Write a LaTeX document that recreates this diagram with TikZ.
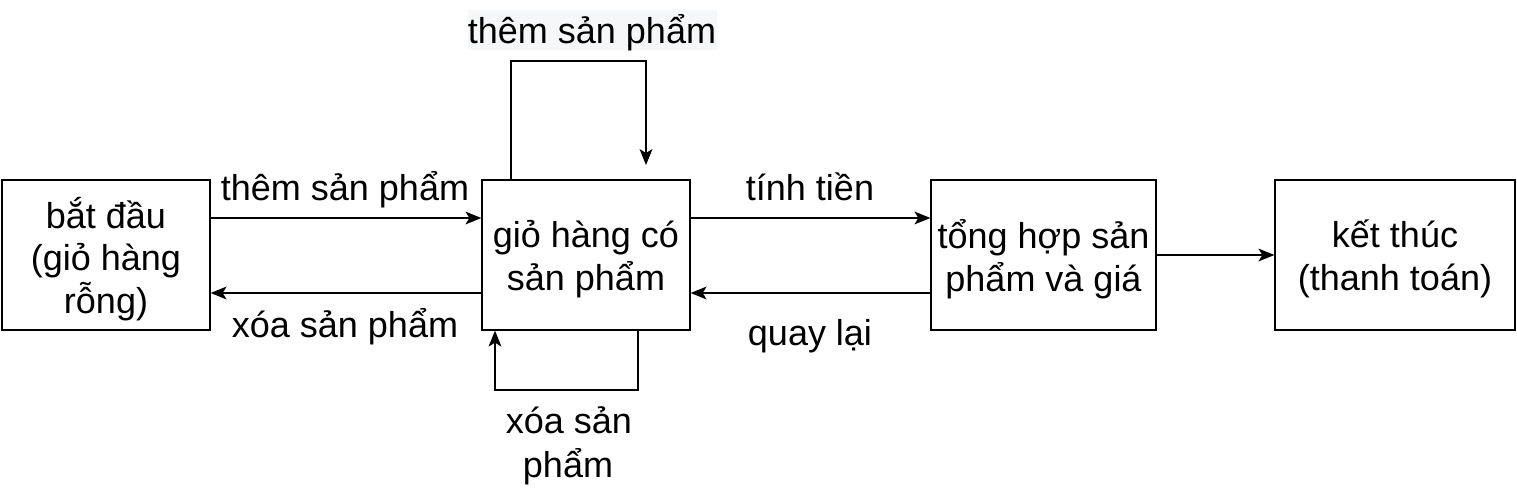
\documentclass[tikz,border=0pt]{standalone}
\usepackage{fontspec}
\setmainfont{Liberation Sans}
\usetikzlibrary{arrows.meta}
\definecolor{labelbg}{RGB}{246,247,248}
\begin{document}
\begin{tikzpicture}[x=1pt,y=-1pt,
  box/.style={draw, line width=1.3pt, rectangle, inner sep=0pt, minimum height=150pt},
  boxtext/.style={inner sep=0pt, align=center, yshift=-4pt, font=\fontsize{36}{42.5}\selectfont},
  lbl/.style={inner sep=0pt, font=\fontsize{36}{42}\selectfont, align=center},
  tip/.tip={Stealth[length=16pt,width=13pt,inset=4pt,line width=0pt]},
  conn/.style={line width=1.3pt, -tip}]
\useasboundingbox (0,0) rectangle (1517,488);
\node[box, minimum width=208pt, label={[boxtext]center:{bắt đầu\\(giỏ hàng\\rỗng)}}] (b1) at (106,255) {};
\node[box, minimum width=208pt, label={[boxtext]center:{giỏ hàng có\\sản phẩm}}] (b2) at (586,255) {};
\node[box, minimum width=225pt, label={[boxtext]center:{tổng hợp sản\\phẩm và giá}}] (b3) at (1043.5,255) {};
\node[box, minimum width=240pt, label={[boxtext]center:{kết thúc\\(thanh toán)}}] (b4) at (1395,255) {};
% connectors
\draw[conn] ([yshift=37pt]b1.east) -- ([yshift=37pt]b2.west);
\draw[conn] ([yshift=-38pt]b2.west) -- ([yshift=-38pt]b1.east);
\draw[conn] ([yshift=37pt]b2.east) -- ([yshift=37pt]b3.west);
\draw[conn] ([yshift=-38pt]b3.west) -- ([yshift=-38pt]b2.east);
\draw[conn] (b3.east) -- (b4.west);
% self loops
\coordinate (tt) at (646,61);
\coordinate (tipT) at (646,165);
\draw[conn] ([xshift=-75pt]b2.north) |- (tt) -- (tipT);
\coordinate (bb) at (495,390);
\draw[conn] ([xshift=52pt]b2.south) |- (bb) -- ([xshift=-91pt]b2.south);
% labels
\node[lbl, anchor=base] (l1) at (345,200) {thêm sản phẩm};
\node[lbl, anchor=base] (l2) at (345,337) {xóa sản phẩm};
\node[lbl, anchor=base] (l3) at (810,200) {tính tiền};
\node[lbl, anchor=base] (l4) at (810,345) {quay lại};
\node[fill=labelbg, minimum width=249pt, minimum height=40pt, inner sep=0pt] (l5bg) at (592.5,30) {};
\node[lbl, anchor=base] (l5) at (592,43) {thêm sản phẩm};
\node[lbl, anchor=base] (l6) at (569,433) {xóa sản};
\node[lbl, anchor=base] (l7) at (568,477) {phẩm};
\end{tikzpicture}
\end{document}
